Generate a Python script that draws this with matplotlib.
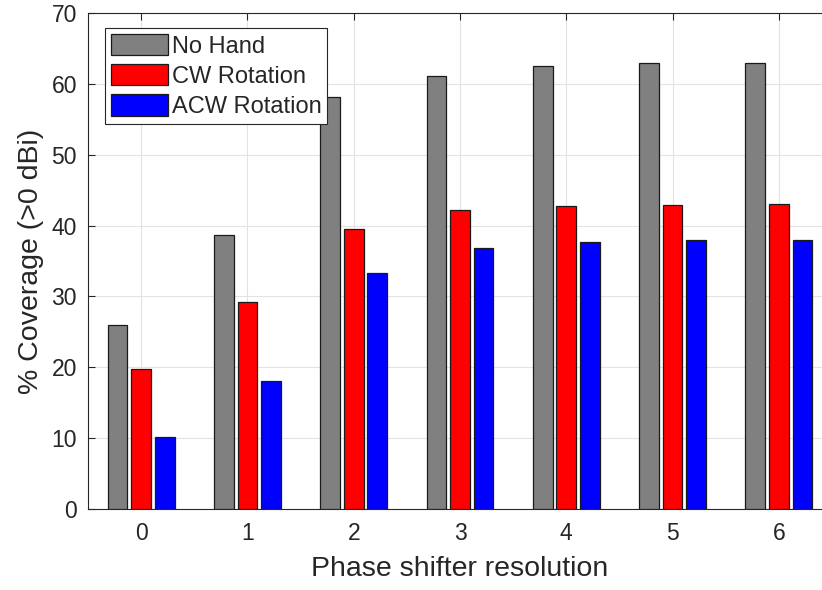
import matplotlib
matplotlib.use("Agg")
import matplotlib.pyplot as plt
import numpy as np

plt.rcParams['font.family'] = ['Liberation Sans', 'DejaVu Sans']

categories = ['0', '1', '2', '3', '4', '5', '6']
series_names = ['No Hand', 'CW Rotation', 'ACW Rotation']
no_hand = [26.0, 38.6, 58.2, 61.1, 62.5, 62.9, 62.9]
cw_rotation = [19.7, 29.2, 39.5, 42.2, 42.8, 42.9, 43.0]
acw_rotation = [10.2, 18.0, 33.3, 36.9, 37.7, 37.9, 38.0]
yticks = [0, 10, 20, 30, 40, 50, 60, 70]

colors = [(0.5, 0.5, 0.5), (1, 0, 0), (0, 0, 1)]
series = [no_hand, cw_rotation, acw_rotation]
dark = (0.15, 0.15, 0.15)

fig = plt.figure(figsize=(8.22, 5.9), dpi=100)
ax = fig.add_axes([88/822, 81/590, 744/822, 496/590])

x = np.arange(len(categories))
offset = 0.222
width = 0.185
for i, (vals, c, name) in enumerate(zip(series, colors, series_names)):
    ax.bar(x + (i - 1) * offset, vals, width, color=c, edgecolor=(0.1, 0.1, 0.1),
           linewidth=0.9, label=name, zorder=3)

ax.set_xlim(-0.5, 6.5)
ax.set_ylim(0, 70)
ax.set_xticks(x)
ax.set_xticklabels(categories)
ax.set_yticks(yticks)
ax.grid(True, color=(0.89, 0.89, 0.89), linewidth=0.8, zorder=0)
ax.set_axisbelow(True)
for s in ax.spines.values():
    s.set_color(dark)
    s.set_linewidth(0.8)
ax.tick_params(direction='in', top=True, right=True, length=5, width=0.8,
               colors=dark, labelsize=16.5, pad=8)
ax.tick_params(axis='x', pad=9)
ax.set_xlabel('Phase shifter resolution', fontsize=20.5, color=dark, labelpad=8)
ax.set_ylabel('% Coverage (>0 dBi)', fontsize=20.5, color=dark, labelpad=5)

leg = ax.legend(loc='upper left', bbox_to_anchor=(17/744, 481/496), borderaxespad=0,
                fontsize=17, handlelength=2.4, handleheight=1.0, handletextpad=0.17,
                labelspacing=0.28, borderpad=0.25, fancybox=False, framealpha=1,
                edgecolor=dark, labelcolor=dark)
leg.get_frame().set_linewidth(0.8)

fig.savefig('out.png', dpi=100)
